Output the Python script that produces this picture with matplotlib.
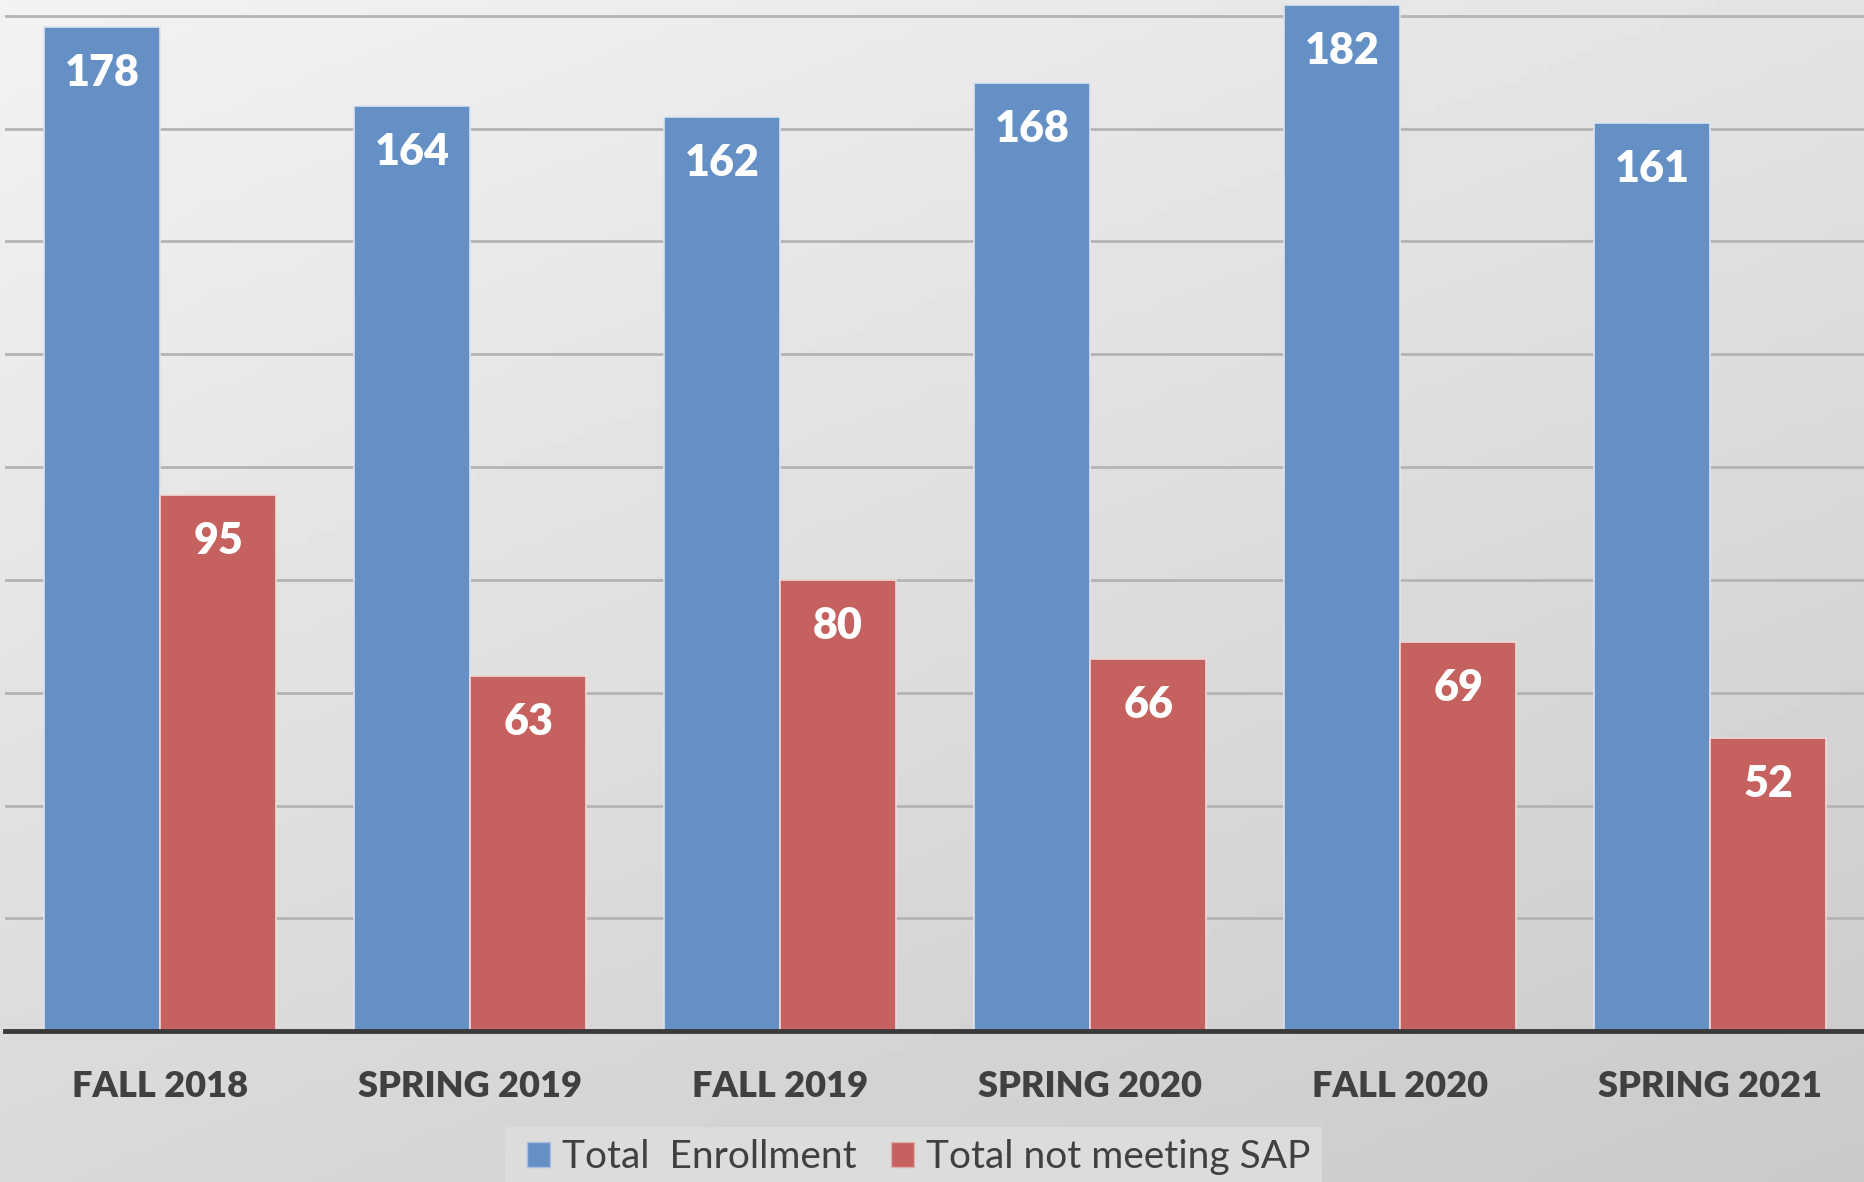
import numpy as np
import matplotlib.pyplot as plt
from matplotlib.patches import Patch, Rectangle

terms = ["FALL 2018", "SPRING 2019", "FALL 2019", "SPRING 2020", "FALL 2020", "SPRING 2021"]
total_enrollment = [178, 164, 162, 168, 182, 161]
not_meeting_sap = [95, 63, 80, 66, 69, 52]

blue = "#6590c5"
red = "#c5625f"
txt = "#404040"
font = "Lato"

fig = plt.figure(figsize=(18.65, 11.82), dpi=100)

# gradient background, lighter at top left
bg = fig.add_axes([0, 0, 1, 1], zorder=-1)
yy, xx = np.mgrid[0:1:200j, 0:1:200j]
shade = 0.95 - 0.10 * yy - 0.06 * xx
bg.imshow(shade, cmap="gray", vmin=0, vmax=1, aspect="auto", extent=[0, 1, 0, 1], origin="upper")
bg.axis("off")

ax = fig.add_axes([0.0027, 0.1275, 0.9973, 0.8725])
ax.patch.set_alpha(0)

x = np.arange(len(terms))
w = 0.375
b1 = ax.bar(x - w / 2, total_enrollment, w, color=blue, edgecolor="#dbe4f0", linewidth=1.2, zorder=3)
b2 = ax.bar(x + w / 2, not_meeting_sap, w, color=red, edgecolor="#f0d8d8", linewidth=1.2, zorder=3)

for bars in (b1, b2):
    for rect in bars:
        h = rect.get_height()
        ax.annotate(f"{h:g}", (rect.get_x() + rect.get_width() / 2, h), xytext=(0, -46),
                    textcoords="offset pixels", ha="center", va="center",
                    color="white", fontsize=31, fontweight="heavy", family=font, zorder=4)

ax.set_xlim(-0.5, len(terms) - 0.5)
ax.set_ylim(0, 182.8)
ax.set_yticks(np.arange(20, 181, 20))
ax.yaxis.grid(True, color="#b4b4b4", linewidth=2, zorder=0)
ax.tick_params(axis="y", left=False, labelleft=False)
ax.tick_params(axis="x", length=0, pad=28)
ax.set_xticks(x)
ax.set_xticklabels(terms, fontsize=26, fontweight="heavy", color=txt, family=font)
for s in ["top", "right", "left"]:
    ax.spines[s].set_visible(False)
ax.spines["bottom"].set_color("#3a3a3a")
ax.spines["bottom"].set_linewidth(3.5)
ax.spines["bottom"].set_zorder(5)

# legend box
bg.add_patch(Rectangle((505 / 1865, 0), 817 / 1865, 55 / 1182, transform=fig.transFigure,
                       facecolor="#dcdcdc", edgecolor="none", zorder=2))
handles = [Patch(facecolor=blue, edgecolor="#a8bfdc"), Patch(facecolor=red, edgecolor="#e0b0b0")]
leg = fig.legend(handles, ["Total  Enrollment", "Total not meeting SAP"], loc="center",
                 bbox_to_anchor=(0.4925, 25 / 1182), ncol=2, frameon=False, borderaxespad=0,
                 handlelength=0.6, handleheight=0.6, handletextpad=0.3, columnspacing=0.9,
                 borderpad=0, prop={"family": font, "size": 28})
for t in leg.get_texts():
    t.set_color(txt)

fig.savefig("out.png", dpi=100)
